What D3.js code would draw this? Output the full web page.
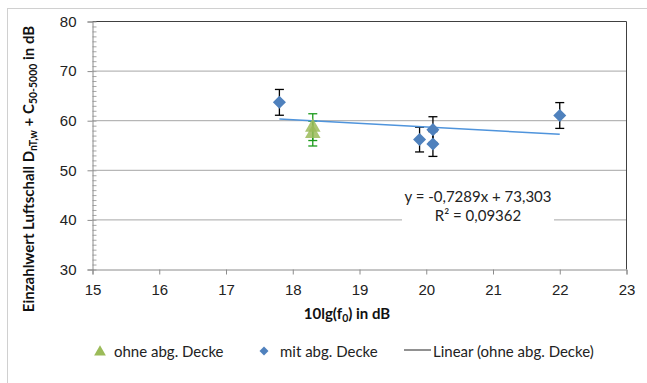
<!DOCTYPE html>
<html>
<head>
<meta charset="utf-8">
<script src="https://cdn.jsdelivr.net/npm/d3@7"></script>
<style>
  body { margin: 0; background: #fff; }
  svg { font-family: Lato, "Open Sans", sans-serif; }
  .tick text { fill: #222; }
</style>
</head>
<body>
<div id="chart_div"></div>
<script>
//----------------------------- DATA -----------------------------//
const xTicks = [15, 16, 17, 18, 19, 20, 21, 22, 23];
const yTicks = [30, 40, 50, 60, 70, 80];

// ohne abg. Decke (triangles)
const ohneX = [18.3, 18.3];
const ohneY = [58.7, 57.4];
const ohneErr = [2.7, 2.5];

// mit abg. Decke (diamonds)
const mitX = [17.8, 19.9, 20.1, 20.1, 22.0];
const mitY = [63.7, 56.2, 58.2, 55.3, 61.05];
const mitErr = [2.6, 2.5, 2.6, 2.5, 2.6];

// trend line  y = -0,7289x + 73,303
const trendSlope = -0.7289;
const trendIntercept = 73.303;
const trendRange = [17.8, 22.0];
const trendLabel = ["y = -0,7289x + 73,303", "R² = 0,09362"];

const legendLabels = ["ohne abg. Decke", "mit abg. Decke", "Linear (ohne abg. Decke)"];

//---------------------------- SETUP -----------------------------//
const W = 647, H = 383;
const svg = d3.select("#chart_div").append("svg")
  .attr("width", W).attr("height", H);

// outer chart frame
svg.append("rect")
  .attr("x", 7.5).attr("y", 8.5)
  .attr("width", W).attr("height", H)
  .attr("fill", "none").attr("stroke", "#d0d0d0");

const x = d3.scaleLinear().domain([15, 23]).range([92.5, 626.5]);
const y = d3.scaleLinear().domain([30, 80]).range([269.5, 21.5]);

//---------------------------- GRID ------------------------------//
svg.append("g")
  .selectAll("line")
  .data(yTicks.slice(1, -1))
  .enter().append("line")
  .attr("x1", x(15)).attr("x2", x(23))
  .attr("y1", d => y(d)).attr("y2", d => y(d))
  .attr("stroke", "#a6a6a6");

// plot border top & right
svg.append("path")
  .attr("d", `M${x(15)},${y(80)}H${x(23)}V${y(30)}`)
  .attr("fill", "none").attr("stroke", "#404040");

//---------------------------- AXES ------------------------------//
// y minor ticks (inside)
svg.append("g")
  .attr("transform", `translate(${x(15)},0)`)
  .call(d3.axisRight(y).tickValues(d3.range(30, 81, 1)).tickSize(4).tickFormat(""))
  .call(g => g.select(".domain").remove())
  .selectAll("line").attr("stroke", "#a6a6a6");

const yAxis = svg.append("g")
  .attr("transform", `translate(${x(15)},0)`)
  .call(d3.axisLeft(y).tickValues(yTicks).tickSize(5).tickPadding(11));
yAxis.select(".domain").attr("stroke", "#8c8c8c");
yAxis.selectAll("line").attr("stroke", "#8c8c8c");
yAxis.selectAll("text").attr("font-size", 15);

const xAxis = svg.append("g")
  .attr("transform", `translate(0,${y(30)})`)
  .call(d3.axisBottom(x).tickValues(xTicks).tickSize(5).tickPadding(10));
xAxis.select(".domain").attr("stroke", "#8c8c8c");
xAxis.selectAll("line").attr("stroke", "#8c8c8c");
xAxis.selectAll("text").attr("font-size", 15);

//------------------------- ERROR BARS ---------------------------//
function errorBars(xs, ys, es, color) {
  const g = svg.append("g").attr("stroke", color).attr("stroke-width", 1.3);
  xs.forEach((xv, i) => {
    const cx = x(xv), top = y(ys[i] + es[i]), bot = y(ys[i] - es[i]);
    g.append("line").attr("x1", cx).attr("x2", cx).attr("y1", top).attr("y2", bot);
    g.append("line").attr("x1", cx - 4.5).attr("x2", cx + 4.5).attr("y1", top).attr("y2", top);
    g.append("line").attr("x1", cx - 4.5).attr("x2", cx + 4.5).attr("y1", bot).attr("y2", bot);
  });
}
errorBars(mitX, mitY, mitErr, "#000");
errorBars(ohneX, ohneY, ohneErr, "#1a9a1a");

//--------------------------- TREND ------------------------------//
svg.append("line")
  .attr("x1", x(trendRange[0])).attr("y1", y(trendSlope * trendRange[0] + trendIntercept))
  .attr("x2", x(trendRange[1])).attr("y2", y(trendSlope * trendRange[1] + trendIntercept))
  .attr("stroke", "#4f94dc").attr("stroke-width", 1.5);

//--------------------------- POINTS -----------------------------//
const diamond = d3.symbol().type(d3.symbolSquare).size(85);
svg.append("g").selectAll("path")
  .data(mitX.map((d, i) => [d, mitY[i]]))
  .enter().append("path")
  .attr("d", diamond)
  .attr("transform", d => `translate(${x(d[0])},${y(d[1])}) rotate(45)`)
  .attr("fill", "#4f81bd");

const tri = d3.symbol().type(d3.symbolTriangle).size(105);
svg.append("g").selectAll("path")
  .data(ohneX.map((d, i) => [d, ohneY[i]]))
  .enter().append("path")
  .attr("d", tri)
  .attr("transform", d => `translate(${x(d[0])},${y(d[1])})`)
  .attr("fill", "#9bbb59").attr("fill-opacity", 0.85);

//------------------------ TREND LABEL ---------------------------//
svg.append("rect")
  .attr("x", 402).attr("y", 186).attr("width", 152).attr("height", 40)
  .attr("fill", "#fff");
svg.append("g").selectAll("text")
  .data(trendLabel)
  .enter().append("text")
  .attr("x", 478).attr("y", (d, i) => 202 + i * 19)
  .attr("text-anchor", "middle")
  .attr("font-size", 15).attr("fill", "#222")
  .text(d => d);

//---------------------------- TITLES ----------------------------//
const yTitle = svg.append("text")
  .attr("transform", "translate(34,169) rotate(-90)")
  .attr("text-anchor", "middle")
  .attr("font-size", 15).attr("font-weight", "bold").attr("fill", "#111");
yTitle.append("tspan").text("Einzahlwert Luftschall D");
yTitle.append("tspan").attr("font-size", 10.5).attr("dy", 3).text("nT,w");
yTitle.append("tspan").attr("dy", -3).text(" + C");
yTitle.append("tspan").attr("font-size", 10.5).attr("dy", 3).text("50-5000");
yTitle.append("tspan").attr("dy", -3).text(" in dB");

const xTitle = svg.append("text")
  .attr("x", 347).attr("y", 319)
  .attr("text-anchor", "middle")
  .attr("font-size", 15).attr("font-weight", "bold").attr("fill", "#111");
xTitle.append("tspan").text("10lg(f");
xTitle.append("tspan").attr("font-size", 10.5).attr("dy", 3).text("0");
xTitle.append("tspan").attr("dy", -3).text(") in dB");

//---------------------------- LEGEND ----------------------------//
const leg = svg.append("g").attr("font-size", 15).attr("fill", "#222");
leg.append("path").attr("d", d3.symbol().type(d3.symbolTriangle).size(60))
  .attr("transform", "translate(100,352)").attr("fill", "#9bbb59");
leg.append("text").attr("x", 114).attr("y", 357).text(legendLabels[0]);
leg.append("path").attr("d", d3.symbol().type(d3.symbolSquare).size(40))
  .attr("transform", "translate(264,351) rotate(45)").attr("fill", "#4f81bd");
leg.append("text").attr("x", 280).attr("y", 357).text(legendLabels[1]);
leg.append("line").attr("x1", 404).attr("x2", 431).attr("y1", 350).attr("y2", 350)
  .attr("stroke", "#555").attr("stroke-width", 1.3);
leg.append("text").attr("x", 433).attr("y", 357).text(legendLabels[2]);
</script>
</body>
</html>
